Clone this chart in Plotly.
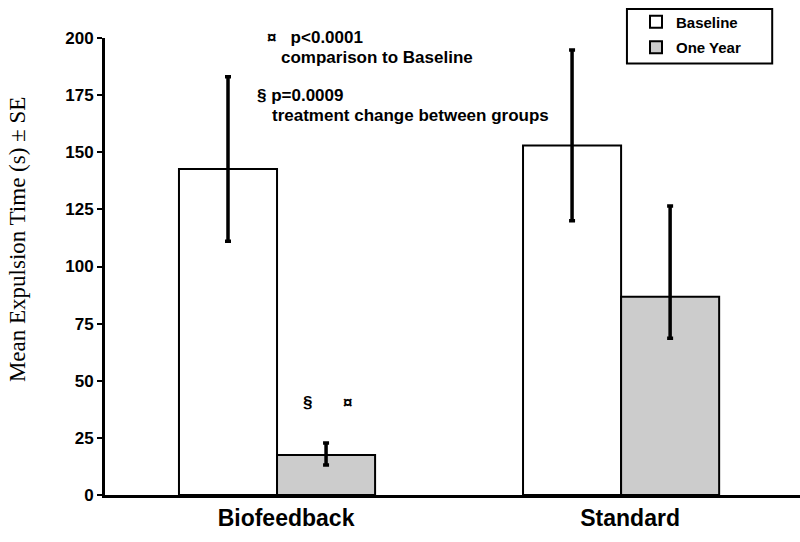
import plotly.graph_objects as go

categories = ["Biofeedback", "Standard"]
baseline = [142.7, 152.9]
baseline_err_plus = [40.3, 41.8]
baseline_err_minus = [31.7, 32.9]
one_year = [17.5, 86.8]
one_year_err_plus = [5.3, 39.7]
one_year_err_minus = [4.4, 18.2]
y_ticks = [0, 25, 50, 75, 100, 125, 150, 175, 200]

ARIAL = "Arial, Liberation Sans, sans-serif"
NB = "\u00a0"

fig = go.Figure()
fig.add_trace(go.Bar(
    x=categories, y=baseline, name="Baseline", legendgroup="a",
    marker=dict(color="white", line=dict(color="black", width=2)),
    error_y=dict(type="data", symmetric=False, array=baseline_err_plus,
                 arrayminus=baseline_err_minus, color="black", thickness=3.5, width=3),
))
fig.add_trace(go.Bar(
    x=categories, y=one_year, name="One Year", legendgroup="b",
    marker=dict(color="#cccccc", line=dict(color="black", width=2)),
    error_y=dict(type="data", symmetric=False, array=one_year_err_plus,
                 arrayminus=one_year_err_minus, color="black", thickness=3.5, width=3),
))

bold = dict(family=ARIAL, size=17, color="black")
fig.update_layout(
    width=800, height=542,
    paper_bgcolor="white", plot_bgcolor="white",
    margin=dict(l=105, r=0, t=38, b=47),
    barmode="group", bargap=0.43, bargroupgap=0,
    showlegend=True,
    legend=dict(
        x=0.764, y=1.071, xanchor="left", yanchor="top",
        borderwidth=0, bgcolor="rgba(0,0,0,0)",
        font=dict(family=ARIAL, size=15, color="black", weight="bold"),
        itemwidth=30, tracegroupgap=3,
    ),
    xaxis=dict(
        range=[-0.5, 1.52], showline=True, linecolor="black", linewidth=3,
        ticks="", showgrid=False, zeroline=False, automargin=False,
        ticklabelshift=9,
        tickfont=dict(family=ARIAL, size=23, color="black", weight="bold"),
    ),
    yaxis=dict(
        range=[0, 200], tickvals=y_ticks, showline=True, linecolor="black", linewidth=3,
        ticks="outside", ticklen=5, tickwidth=2, tickcolor="black",
        showgrid=False, zeroline=False, automargin=False,
        tickfont=dict(family=ARIAL, size=17, color="black", weight="bold"),
    ),
)

fig.add_shape(type="rect", xref="paper", yref="paper",
              x0=0.751, x1=0.960, y0=0.944, y1=1.0635,
              line=dict(color="black", width=2), fillcolor="rgba(0,0,0,0)")

fig.add_annotation(x=-0.125, y=0.558, xref="paper", yref="paper",
                   text="Mean Expulsion Time (s) ± SE", textangle=-90,
                   showarrow=False, xanchor="center", yanchor="middle",
                   font=dict(family="Times New Roman, Liberation Serif, serif", size=23, color="black"))

fig.add_annotation(x=0.2305, y=1.002, xref="paper", yref="paper",
                   text="<b>¤" + NB + NB + " p<0.0001</b>",
                   showarrow=False, xanchor="left", yanchor="middle", font=bold)
fig.add_annotation(x=0.2504, y=0.9584, xref="paper", yref="paper",
                   text="<b>comparison to Baseline</b>",
                   showarrow=False, xanchor="left", yanchor="middle", font=bold)
fig.add_annotation(x=0.2158, y=0.8731, xref="paper", yref="paper",
                   text="<b>§ p=0.0009</b>",
                   showarrow=False, xanchor="left", yanchor="middle", font=bold)
fig.add_annotation(x=0.2374, y=0.830, xref="paper", yref="paper",
                   text="<b>treatment change between groups</b>",
                   showarrow=False, xanchor="left", yanchor="middle", font=bold)
fig.add_annotation(x=0.292, y=40.3, xref="paper", yref="y", text="<b>§</b>",
                   showarrow=False, xanchor="center", yanchor="middle", font=bold)
fig.add_annotation(x=0.349, y=40.3, xref="paper", yref="y", text="<b>¤</b>",
                   showarrow=False, xanchor="center", yanchor="middle", font=bold)

fig.write_html("out.html", config={"displayModeBar": False},
               post_script="document.body.style.margin='0';")
